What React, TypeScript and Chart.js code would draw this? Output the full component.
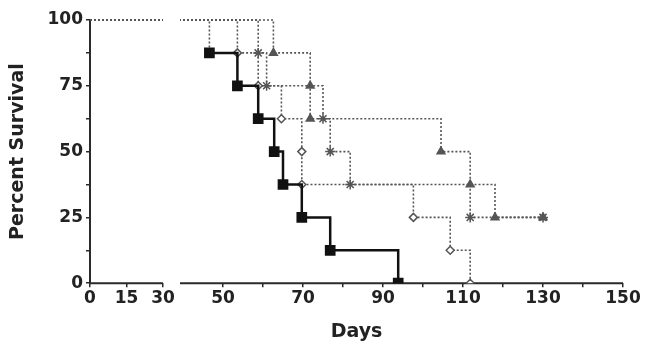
import React, { useEffect, useRef } from 'react';
import { Chart, registerables } from 'chart.js';

Chart.register(...registerables);

// Axis tick values
const leftTicks = [0, 15, 30];
const rightTicks = [50, 70, 90, 110, 130, 150];
const rightMinorTicks = [60, 80, 100, 120, 140];
const yTicks = [0, 25, 50, 75, 100];
const yMinorTicks = [12.5, 37.5, 62.5, 87.5];
const leftMax = 37;
const rightMin = 39.25;
const rightMax = 150;

// Kaplan-Meier series (event day, percent surviving after the event)
const daysA = [0, 46.6, 53.6, 58.8, 62.8, 65, 69.7, 76.8, 93.8];
const survA = [100, 87.5, 75, 62.5, 50, 37.5, 25, 12.5, 0];

const daysB = [0, 53.6, 58.8, 64.6, 69.7, 69.7, 97.6, 106.8, 111.8];
const survB = [100, 87.5, 75, 62.5, 50, 37.5, 25, 12.5, 0];

const daysC = [0, 58.8, 60.9, 75, 76.8, 81.8, 111.8, 130];
const survC = [100, 87.5, 75, 62.5, 50, 37.5, 25, 25];

const daysD = [0, 62.6, 71.8, 71.8, 104.5, 111.8, 118, 130];
const survD = [100, 87.5, 75, 62.5, 50, 37.5, 25, 25];

const TEXT = '#222';
const AXIS = '#2a2a2a';
const FONT = 'DejaVu Sans';

const brokenAxisPlugin = {
  id: 'brokenAxis',
  beforeDatasetsDraw(chart: any) {
    const ctx = chart.ctx;
    const ca = chart.chartArea;
    const x1 = chart.scales.x1;
    const x2 = chart.scales.x2;
    ctx.save();
    ctx.strokeStyle = AXIS;
    ctx.lineWidth = 2;
    ctx.beginPath();
    ctx.moveTo(x1.getPixelForValue(leftTicks[0]) - 1, ca.bottom);
    ctx.lineTo(x1.getPixelForValue(leftTicks[leftTicks.length - 1]), ca.bottom);
    ctx.moveTo(x2.left, ca.bottom);
    ctx.lineTo(x2.right, ca.bottom);
    ctx.stroke();
    ctx.restore();
  },
  beforeDatasetDraw(chart: any, args: any) {
    const ctx = chart.ctx;
    const ca = chart.chartArea;
    const xs = args.meta.xScale;
    const left = xs.left;
    const right = xs.id === 'x1' ? xs.getPixelForValue(leftTicks[leftTicks.length - 1]) : xs.right + 8;
    ctx.save();
    ctx.beginPath();
    ctx.rect(left, ca.top - 3, right - left, ca.bottom - ca.top + 3);
    ctx.clip();
  },
  afterDatasetDraw(chart: any) {
    chart.ctx.restore();
  },
};

type Style = {
  color: string;
  width: number;
  dash: number[];
  pointStyle: string;
  radius: number;
  fill: string;
  firstDash?: boolean;
};

function makeDatasets(days: number[], surv: number[], st: Style) {
  const data = days.map((d, i) => ({ x: d, y: surv[i] }));
  const segment = st.firstDash
    ? {
        borderDash: (c: any) => (c.p0DataIndex === 0 ? [2, 2] : undefined),
        borderColor: (c: any) => (c.p0DataIndex === 0 ? '#555' : undefined),
        borderWidth: (c: any) => (c.p0DataIndex === 0 ? 1.6 : undefined),
      }
    : undefined;
  const base = {
    data,
    stepped: 'before' as const,
    borderColor: st.color,
    borderWidth: st.width,
    borderDash: st.dash,
    fill: false,
    clip: false as const,
    segment,
  };
  return [
    {
      ...base,
      xAxisID: 'x1',
      pointRadius: 0,
    },
    {
      ...base,
      xAxisID: 'x2',
      pointStyle: st.pointStyle,
      pointRadius: (c: any) => (c.dataIndex === 0 ? 0 : st.radius),
      pointBackgroundColor: st.fill,
      pointBorderColor: st.color,
      pointBorderWidth: 1.5,
    },
  ];
}

export default function App() {
  const ref = useRef<HTMLCanvasElement | null>(null);

  useEffect(() => {
    document.body.style.margin = '0';
    document.body.style.overflow = 'hidden';
    const canvas = ref.current;
    if (!canvas) return;

    const datasets = [
      ...makeDatasets(daysA, survA, {
        color: '#111', width: 2.5, dash: [], pointStyle: 'rect', radius: 6.5, fill: '#111', firstDash: true,
      }),
      ...makeDatasets(daysB, survB, {
        color: '#555', width: 1.6, dash: [2, 2], pointStyle: 'rectRot', radius: 4, fill: '#fff',
      }),
      ...makeDatasets(daysC, survC, {
        color: '#555', width: 1.6, dash: [2, 2], pointStyle: 'star', radius: 5, fill: '#555',
      }),
      ...makeDatasets(daysD, survD, {
        color: '#555', width: 1.6, dash: [2, 2], pointStyle: 'triangle', radius: 4.5, fill: '#555',
      }),
    ];

    const tickFont = { family: FONT, size: 17, weight: 'bold' as const };
    const titleFont = { family: FONT, size: 19, weight: 'bold' as const };

    const xCommon = {
      type: 'linear' as const,
      position: 'bottom' as const,
      stack: 'x',
      border: { display: false },
      grid: { drawOnChartArea: false, drawTicks: true, tickLength: 4, color: AXIS, lineWidth: 1.5 },
      ticks: { font: tickFont, color: TEXT, padding: 1, autoSkip: false, maxRotation: 0 },
      afterFit: (s: any) => { s.height = 36; },
    };

    const chart = new Chart(canvas, {
      type: 'line',
      data: { datasets: datasets as any },
      plugins: [brokenAxisPlugin],
      options: {
        animation: false,
        responsive: false,
        devicePixelRatio: 1,
        layout: { padding: { top: 20, right: 22, left: 0, bottom: 0 } },
        plugins: {
          legend: { display: false },
          tooltip: { enabled: false },
          title: {
            display: true,
            text: 'Days',
            position: 'bottom',
            fullSize: false,
            font: titleFont,
            color: TEXT,
            padding: { top: 1, bottom: 2 },
          },
        },
        scales: {
          y: {
            type: 'linear',
            min: 0,
            max: 100,
            afterBuildTicks: (s: any) => {
              s.ticks = [...yTicks, ...yMinorTicks].sort((a, b) => a - b).map((v) => ({ value: v }));
            },
            afterFit: (s: any) => { s.width = 90; },
            ticks: {
              font: tickFont,
              color: TEXT,
              padding: 3,
              autoSkip: false,
              callback: (v: any) => (yTicks.includes(Number(v)) ? String(v) : ''),
            },
            grid: { drawOnChartArea: false, tickLength: 4, color: AXIS, lineWidth: 1.5 },
            border: { display: true, color: AXIS, width: 2 },
            title: {
              display: true,
              text: 'Percent Survival',
              font: titleFont,
              color: TEXT,
              padding: { top: 7, bottom: 0 },
            },
          },
          x1: {
            ...xCommon,
            stackWeight: 90,
            min: 0,
            max: leftMax,
            afterBuildTicks: (s: any) => {
              s.ticks = leftTicks.map((v) => ({ value: v }));
            },
          },
          x2: {
            ...xCommon,
            stackWeight: 443,
            min: rightMin,
            max: rightMax,
            afterBuildTicks: (s: any) => {
              s.ticks = [...rightTicks, ...rightMinorTicks].sort((a, b) => a - b).map((v) => ({ value: v }));
            },
            ticks: {
              ...xCommon.ticks,
              callback: (v: any) => (rightTicks.includes(Number(v)) ? String(v) : ''),
            },
          },
        },
      } as any,
    });

    return () => chart.destroy();
  }, []);

  return (
    <div style={{ width: 645, height: 345, overflow: 'hidden' }}>
      <canvas ref={ref} width={645} height={345} style={{ display: 'block' }} />
    </div>
  );
}
